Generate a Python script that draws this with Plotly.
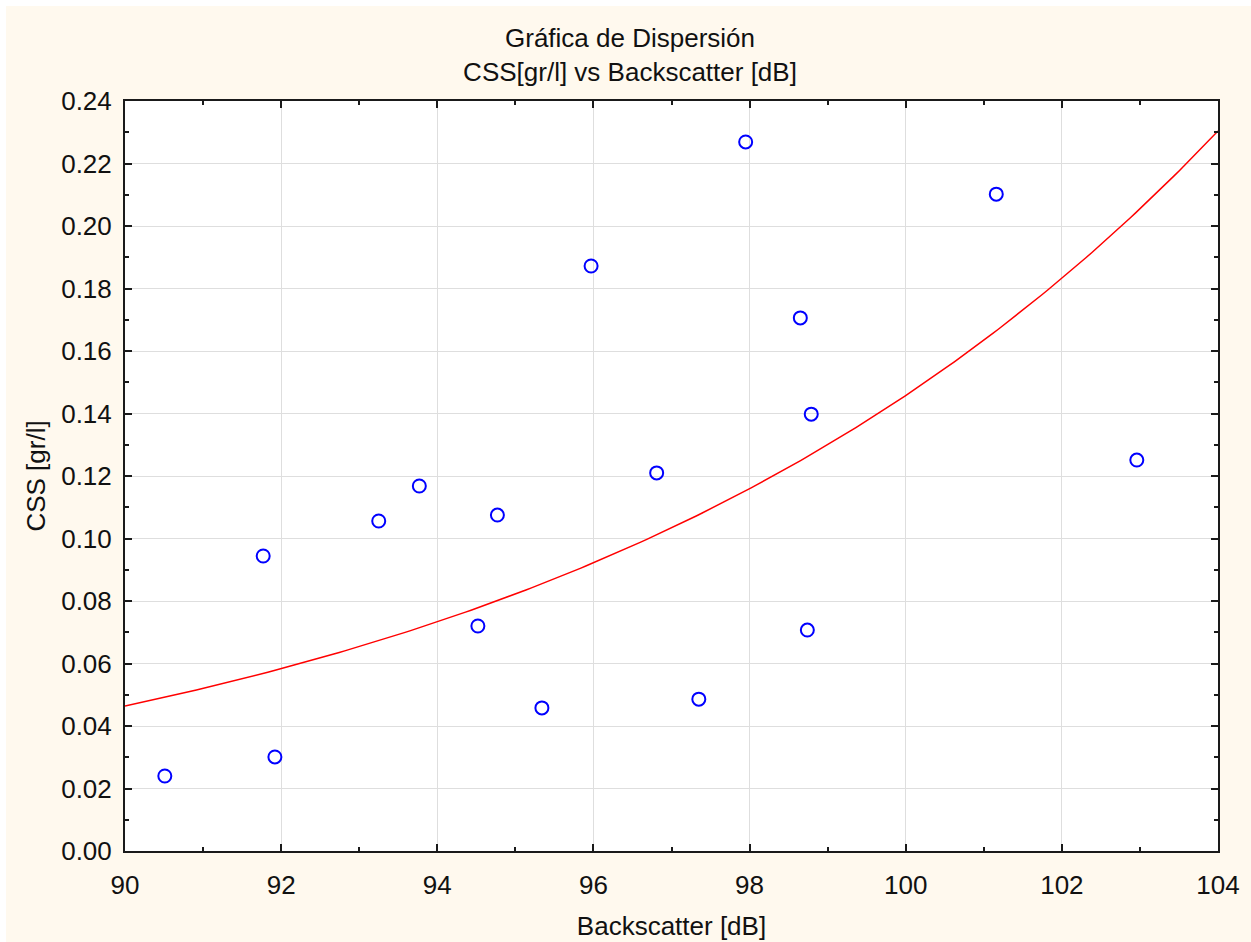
import numpy as np
import plotly.graph_objects as go

# Measured samples: backscatter [dB] and suspended sediment concentration [gr/l]
backscatter_db = [90.51, 91.77, 91.92, 93.25, 93.77, 94.52, 94.77, 95.34, 95.97,
                  96.81, 97.35, 97.95, 98.65, 98.74, 98.79, 101.16, 102.96]
css_grl = [0.0240, 0.0944, 0.0301, 0.1056, 0.1168, 0.0720, 0.1075, 0.0458, 0.1872,
           0.1210, 0.0486, 0.2269, 0.1706, 0.0707, 0.1398, 0.2102, 0.1251]

# Exponential fit CSS = a * exp(b * (dB - 90))
fit_a = 0.0464
fit_b = 0.11447

x_ticks = [90, 92, 94, 96, 98, 100, 102, 104]
y_ticks = [0.00, 0.02, 0.04, 0.06, 0.08, 0.10, 0.12, 0.14, 0.16, 0.18, 0.20, 0.22, 0.24]

fit_x = np.linspace(90, 104, 200)
fit_y = fit_a * np.exp(fit_b * (fit_x - 90))

FONT = "Liberation Sans, Arial, sans-serif"
CREAM = "#FFF9EE"
FS = 26

fig = go.Figure()
fig.add_trace(go.Scatter(x=fit_x, y=fit_y, mode="lines",
                         line=dict(color="#FF0000", width=1.5),
                         hoverinfo="skip", showlegend=False))
fig.add_trace(go.Scatter(x=backscatter_db, y=css_grl, mode="markers",
                         marker=dict(symbol="circle-open", size=13,
                                     color="#0000FF", line=dict(width=2, color="#0000FF")),
                         showlegend=False))

axis_common = dict(
    showline=True, linecolor="#1A1A1A", linewidth=2, mirror="ticks",
    ticks="inside", ticklen=7, tickwidth=1.5, tickcolor="#1A1A1A",
    showgrid=True, gridcolor="#DEDEDE", gridwidth=1, zeroline=False,
    tickfont=dict(family=FONT, size=FS, color="#111111"),
)

fig.update_xaxes(range=[90, 104], tickvals=x_ticks,
                 ticktext=[str(v) for v in x_ticks],
                 ticklabelstandoff=10,
                 minor=dict(ticks="inside", dtick=1, ticklen=4, tickcolor="#1A1A1A",
                            showgrid=False),
                 title=dict(text="Backscatter [dB]", standoff=18,
                            font=dict(family=FONT, size=FS, color="#111111")),
                 **axis_common)
fig.update_yaxes(range=[0, 0.24], tickvals=y_ticks,
                 ticktext=[f"{v:.2f}" for v in y_ticks],
                 ticklabelstandoff=6,
                 minor=dict(ticks="inside", dtick=0.01, ticklen=4, tickcolor="#1A1A1A",
                            showgrid=False),
                 title=dict(text="CSS [gr/l]", standoff=8,
                            font=dict(family=FONT, size=FS, color="#111111")),
                 **axis_common)

# White strip along the top and left edges of the page
L, R, T, B = 125, 33, 101, 91
PW, PH = 1251 - L - R, 942 - T - B
px = lambda p: (p - L) / PW
py = lambda p: (942 - B - p) / PH
fig.add_shape(type="rect", xref="paper", yref="paper", layer="below",
              x0=px(-10), x1=px(1260), y0=py(6), y1=py(-10),
              fillcolor="white", line_width=0)
fig.add_shape(type="rect", xref="paper", yref="paper", layer="below",
              x0=px(-10), x1=px(6), y0=py(950), y1=py(-10),
              fillcolor="white", line_width=0)

fig.update_layout(
    width=1251, height=942,
    margin=dict(l=L, r=R, t=T, b=B, autoexpand=False),
    paper_bgcolor=CREAM, plot_bgcolor="white",
    title=dict(text="Gráfica de Dispersión<br>CSS[gr/l] vs Backscatter [dB]",
               x=630 / 1251, xanchor="center", y=1 - 47 / 942, yanchor="middle",
               font=dict(family=FONT, size=FS, color="#111111")),
    font=dict(family=FONT, color="#111111"),
)

fig.write_html("out.html")
